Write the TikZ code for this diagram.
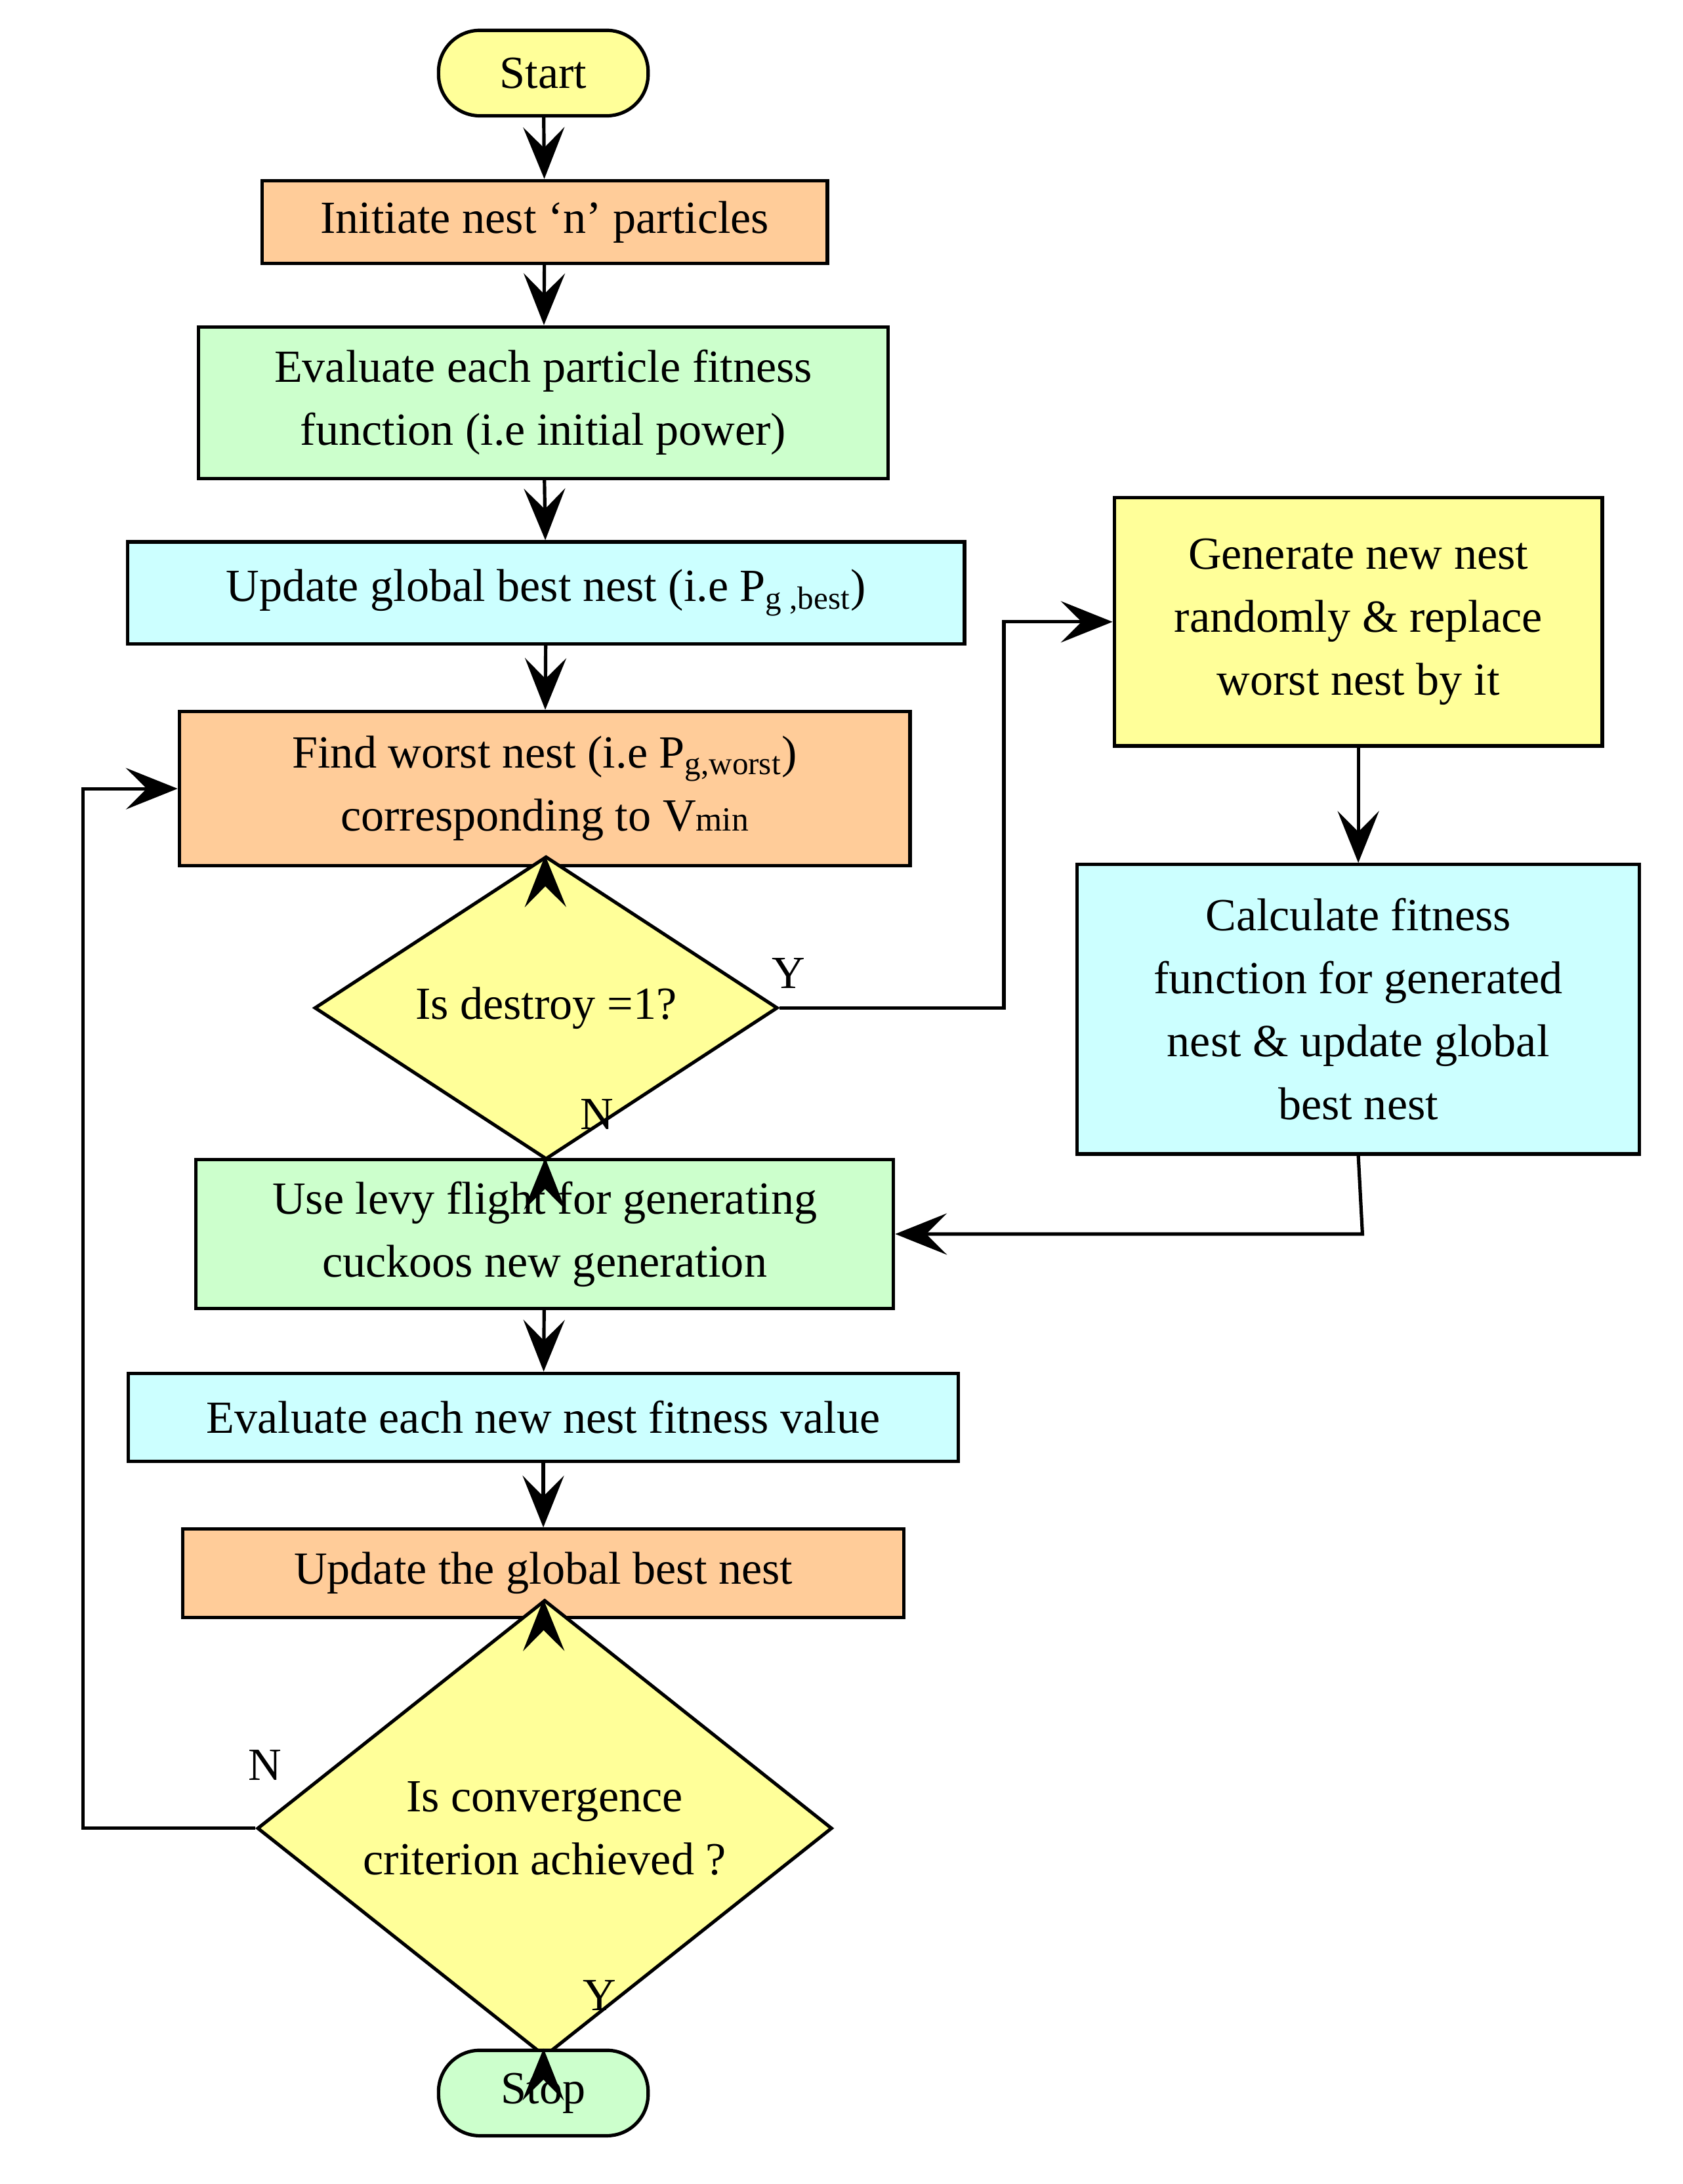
\documentclass[tikz,border=0pt]{standalone}
\usepackage{fontspec}
\setmainfont{Liberation Serif}
\usetikzlibrary{shapes.geometric,arrows.meta}
\definecolor{boxorange}{HTML}{FFCC99}
\definecolor{boxgreen}{HTML}{CCFFCC}
\definecolor{boxcyan}{HTML}{CCFFFF}
\definecolor{boxyellow}{HTML}{FFFF99}
\tikzset{
  procbox/.style={draw, line width=1.4pt, align=center, inner sep=0pt,
    font=\fontsize{19}{26}\selectfont},
  decide/.style={procbox, diamond, fill=boxyellow},
  term/.style={procbox, rounded corners=0.6cm, fill=boxyellow,
    minimum width=3.04cm, minimum height=1.24cm},
  flow/.style={line width=1.4pt, -{Stealth[length=0.75cm,width=0.6cm,inset=0.3cm]}},
  tag/.style={font=\fontsize{19}{23}\selectfont}
}
\begin{document}
\begin{tikzpicture}[x=0.02cm, y=-0.02cm]
  \useasboundingbox (0,0) rectangle (1220,1584);
  \node[term] (start) at (394,53) {Start};
  \node[procbox, fill=boxorange, minimum width=8.2cm, minimum height=1.2cm] (init) at (395,161) {Initiate nest ‘n’ particles};
  \node[procbox, fill=boxgreen, minimum width=10cm, minimum height=2.2cm] (eval) at (394,292) {Evaluate each particle fitness\\function (i.e initial power)};
  \node[procbox, fill=boxcyan, minimum width=12.14cm, minimum height=1.48cm] (gbest) at (396,430) {Update global best nest (i.e P\textsubscript{g ,best})};
  \node[procbox, fill=boxorange, minimum width=10.6cm, minimum height=2.24cm] (worst) at (395,572) {Find worst nest (i.e P\textsubscript{g,worst})\\corresponding to V{\fontsize{14}{16}\selectfont min}};
  \node[decide, minimum width=6.72cm, minimum height=2.32cm] (destroy) at (396,731) {Is destroy =1?};
  \node[procbox, fill=boxyellow, minimum width=7.08cm, minimum height=3.6cm] (gen) at (985,451) {Generate new nest\\randomly \& replace\\worst nest by it};
  \node[procbox, fill=boxcyan, minimum width=8.16cm, minimum height=4.2cm] (calc) at (985,732) {Calculate fitness\\function for generated\\nest \& update global\\best nest};
  \node[procbox, fill=boxgreen, minimum width=10.12cm, minimum height=2.16cm] (levy) at (395,895) {Use levy flight for generating\\cuckoos new generation};
  \node[procbox, fill=boxcyan, minimum width=12.04cm, minimum height=1.28cm] (evnew) at (394,1028) {Evaluate each new nest fitness value};
  \node[procbox, fill=boxorange, minimum width=10.46cm, minimum height=1.28cm] (upd) at (394,1141) {Update the global best nest};
  \node[decide, minimum width=8.34cm, minimum height=4.16cm] (conv) at (395,1326) {Is convergence\\criterion achieved ?};
  \node[term, fill=boxgreen] (stop) at (394,1518) {Stop};

  \draw[flow] (start) -- (init);
  \draw[flow] (init) -- (eval);
  \draw[flow] (eval) -- (gbest);
  \draw[flow] (gbest) -- (worst);
  \draw[flow] (worst) -- (destroy);
  \draw[flow] (destroy) -- (levy);
  \draw[flow] (levy) -- (evnew);
  \draw[flow] (evnew) -- (upd);
  \draw[flow] (upd) -- (conv);
  \draw[flow] (conv) -- (stop);
  \draw[flow] (destroy.east) -- (728,731) |- (gen.west);
  \draw[flow] (gen) -- (calc);
  \draw[flow] (calc.south) -- (988,895) -- (levy.east);
  \draw[flow] (conv.west) -- (60,1326) |- (worst.west);

  \node[tag] (ylab1) at (572,706) {Y};
  \node[tag] (nlab1) at (433,808) {N};
  \node[tag] (nlab2) at (192,1280) {N};
  \node[tag] (ylab2) at (435,1447) {Y};
\end{tikzpicture}
\end{document}
